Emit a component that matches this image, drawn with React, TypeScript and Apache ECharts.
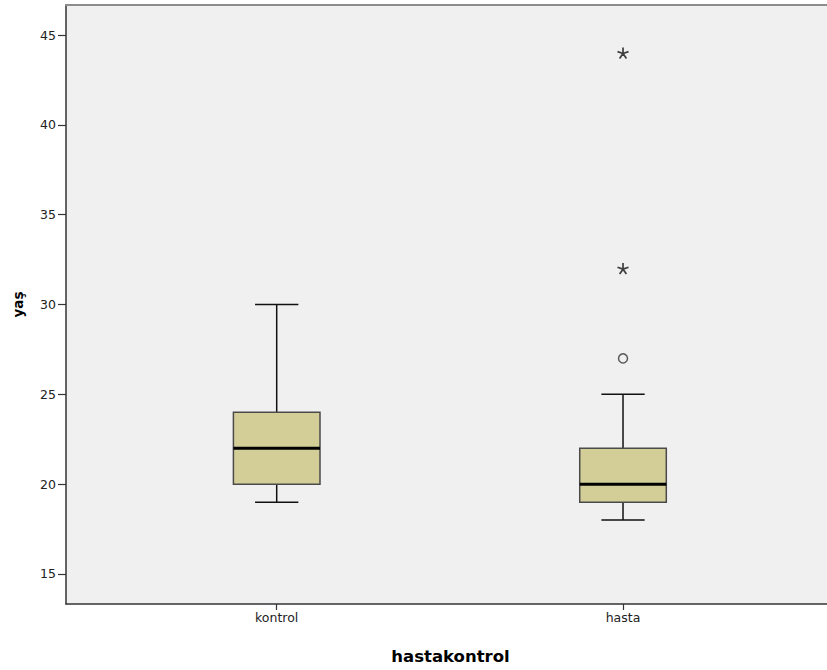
import React, { useEffect, useRef } from "react";
import * as echarts from "echarts";

const categories = ["kontrol", "hasta"];
const categoryPositions = [1, 2];
// five-number summaries per category
const boxMin = [19, 18];
const boxQ1 = [20, 19];
const boxMedian = [22, 20];
const boxQ3 = [24, 22];
const boxMax = [30, 25];
// outliers (circle) and extremes (asterisk): [position, value]
const outliers = [[2, 27]];
const extremes = [[2, 32], [2, 44]];
const yTicks = [15, 20, 25, 30, 35, 40, 45];

const BOX_WIDTH = 0.25;
const X_MIN = 0.3916;
const X_MAX = 2.589;
const Y_MIN = 13.33;
const Y_MAX = 46.67;

const starPath =
  "path://M0,0L0,-5M0,0L4.76,-1.55M0,0L-4.76,-1.55M0,0L-2.94,4.05M0,0L2.94,4.05";

export default function App() {
  const ref = useRef<HTMLDivElement>(null);
  useEffect(() => {
    if (!ref.current) return;
    const chart = echarts.init(ref.current, undefined, { renderer: "svg" });
    const boxData = categoryPositions.map((p, i) => [
      p,
      boxMin[i],
      boxQ1[i],
      boxMedian[i],
      boxQ3[i],
      boxMax[i],
    ]);
    const font = "DejaVu Sans";
    chart.setOption({
      animation: false,
      textStyle: { fontFamily: font },
      grid: {
        left: 66,
        top: 5,
        right: 0,
        bottom: 66,
        show: true,
        backgroundColor: "#f0f0f0",
        borderWidth: 0,
      },
      xAxis: [
        {
          type: "value",
          min: X_MIN,
          max: X_MAX,
          name: "hastakontrol",
          nameLocation: "middle",
          nameGap: 44,
          nameTextStyle: {
            fontFamily: font,
            fontSize: 16.5,
            fontWeight: "bold",
            color: "#000",
            padding: [0, 0, 0, 8],
          },
          axisLine: { show: true, lineStyle: { color: "#333", width: 1.5 } },
          axisTick: {
            show: true,
            length: 6,
            customValues: categoryPositions,
            lineStyle: { color: "#333", width: 1.2 },
          },
          axisLabel: {
            customValues: categoryPositions,
            formatter: (v: number) => categories[Math.round(v) - 1] ?? "",
            fontFamily: font,
            fontSize: 12.5,
            color: "#222",
            margin: 7,
          },
          splitLine: { show: false },
        },
        {
          type: "value",
          position: "top",
          min: X_MIN,
          max: X_MAX,
          axisLine: { show: true, lineStyle: { color: "#8c8c8c", width: 2 } },
          axisTick: { show: false },
          axisLabel: { show: false },
          splitLine: { show: false },
        },
      ],
      yAxis: {
        type: "value",
        min: Y_MIN,
        max: Y_MAX,
        name: "yaş",
        nameLocation: "middle",
        nameGap: 41,
        nameTextStyle: {
          fontFamily: font,
          fontSize: 13.5,
          fontWeight: "bold",
          color: "#000",
        },
        axisLine: { show: true, lineStyle: { color: "#333", width: 1.5 } },
        axisTick: {
          show: true,
          length: 8,
          customValues: yTicks,
          lineStyle: { color: "#333", width: 1.2 },
        },
        axisLabel: {
          customValues: yTicks,
          fontFamily: font,
          fontSize: 12.5,
          color: "#222",
          margin: 10,
        },
        splitLine: { show: false },
      },
      series: [
        {
          type: "custom",
          xAxisIndex: 0,
          encode: { x: 0, y: [1, 2, 3, 4, 5] },
          data: boxData,
          renderItem: (params: any, api: any) => {
            const x = api.value(0);
            const pMin = api.coord([x, api.value(1)]);
            const pQ1 = api.coord([x, api.value(2)]);
            const pMed = api.coord([x, api.value(3)]);
            const pQ3 = api.coord([x, api.value(4)]);
            const pMax = api.coord([x, api.value(5)]);
            const bw = api.size([BOX_WIDTH, 0])[0];
            const cw = bw / 2;
            const cx = pMed[0];
            const whisker = { stroke: "#111", lineWidth: 1.5 };
            return {
              type: "group",
              children: [
                {
                  type: "line",
                  shape: { x1: cx, y1: pMax[1], x2: cx, y2: pQ3[1] },
                  style: whisker,
                },
                {
                  type: "line",
                  shape: { x1: cx, y1: pQ1[1], x2: cx, y2: pMin[1] },
                  style: whisker,
                },
                {
                  type: "line",
                  shape: { x1: cx - cw / 2, y1: pMax[1], x2: cx + cw / 2, y2: pMax[1] },
                  style: whisker,
                },
                {
                  type: "line",
                  shape: { x1: cx - cw / 2, y1: pMin[1], x2: cx + cw / 2, y2: pMin[1] },
                  style: whisker,
                },
                {
                  type: "rect",
                  shape: {
                    x: cx - bw / 2,
                    y: pQ3[1],
                    width: bw,
                    height: pQ1[1] - pQ3[1],
                  },
                  style: { fill: "#d3ce98", stroke: "#4a4a4a", lineWidth: 1.5 },
                },
                {
                  type: "line",
                  shape: { x1: cx - bw / 2, y1: pMed[1], x2: cx + bw / 2, y2: pMed[1] },
                  style: { stroke: "#000", lineWidth: 3 },
                },
              ],
            };
          },
        },
        {
          type: "scatter",
          xAxisIndex: 0,
          data: outliers,
          symbol: "circle",
          symbolSize: 9,
          itemStyle: { color: "transparent", borderColor: "#333", borderWidth: 1.5 },
        },
        {
          type: "scatter",
          xAxisIndex: 0,
          data: extremes,
          symbol: starPath,
          symbolSize: 11,
          itemStyle: { color: "none", borderColor: "#111", borderWidth: 1.7 },
        },
      ],
    });
    return () => chart.dispose();
  }, []);
  return (
    <div
      ref={ref}
      style={{ position: "absolute", left: 0, top: 0, width: 827, height: 670 }}
    />
  );
}
